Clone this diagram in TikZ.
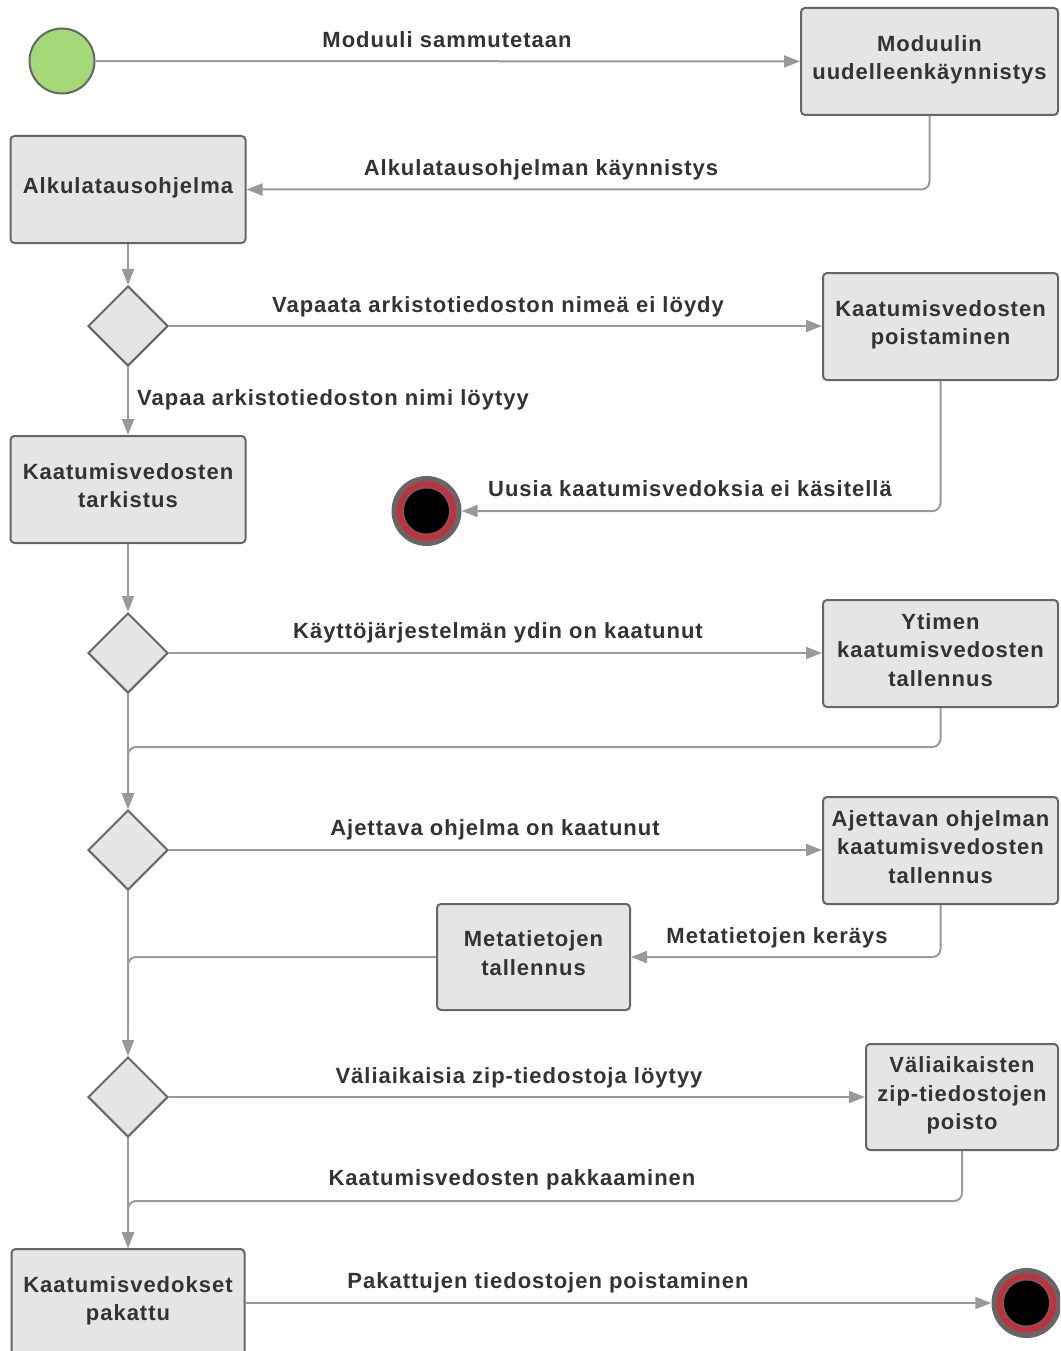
\documentclass[tikz,border=0pt]{standalone}
\usepackage{fontspec}
\setmainfont{Liberation Sans}[LetterSpace=4.5]
\usetikzlibrary{shapes.geometric,arrows.meta}
\definecolor{ink}{HTML}{333333}
\definecolor{boxfill}{HTML}{E5E5E5}
\definecolor{boxline}{HTML}{666666}
\definecolor{flow}{HTML}{999999}
\definecolor{startgreen}{HTML}{A3D977}
\definecolor{endred}{HTML}{C92D39}
\tikzset{
  txt/.style={font=\fontsize{22}{28.5}\selectfont\bfseries, text=ink},
  action/.style={txt, rectangle, rounded corners=4pt, draw=boxline, line width=2pt,
    fill=boxfill, align=center, inner sep=0pt, text height=16pt, text depth=8pt},
  tworow/.style={text height=44.5pt},
  threerow/.style={text height=73pt},
  decision/.style={diamond, aspect=1, draw=boxline, line width=2pt, fill=boxfill,
    minimum width=80pt, minimum height=80pt, inner sep=0pt},
  startnode/.style={circle, draw=boxline, line width=2pt, fill=startgreen,
    minimum size=65pt, inner sep=0pt},
  finalnode/.style={circle, fill=boxline, minimum size=70pt, inner sep=0pt},
  flowline/.style={draw=flow, line width=2pt, rounded corners=8pt,
    -{Triangle[length=16pt,width=12pt]}},
  plainline/.style={draw=flow, line width=2pt, rounded corners=8pt},
  lbl/.style={txt, inner sep=0pt, anchor=base}
}
\newcommand{\stopmark}[1]{%
  \fill[endred] (#1.center) circle (29.5pt);
  \fill[boxline] (#1.center) circle (24pt);
  \fill[black] (#1.center) circle (22.5pt);
}
\begin{document}
\begin{tikzpicture}[x=1pt,y=-1pt]
\useasboundingbox (0,0) rectangle (1060,1351);
\clip (0,0) rectangle (1060,1351);

% nodes
\node[startnode] (start) at (62,61) {};
\node[action, tworow, minimum width=257pt, minimum height=107pt] (restart) at (929.5,61.5) {Moduulin\\uudelleenkäynnistys};
\node[action, minimum width=235pt, minimum height=107pt] (boot) at (128,189.5) {Alkulatausohjelma};
\node[decision] (d1) at (128,326) {};
\node[action, tworow, minimum width=235pt, minimum height=107pt] (remove) at (940.5,326.5) {Kaatumisvedosten\\poistaminen};
\node[action, tworow, minimum width=235pt, minimum height=107pt] (check) at (128,489.5) {Kaatumisvedosten\\tarkistus};
\node[finalnode] (end1) at (426.5,511) {};
\node[decision] (d2) at (128,653) {};
\node[action, threerow, minimum width=235pt, minimum height=107pt] (kernel) at (940.5,653.5) {Ytimen\\kaatumisvedosten\\tallennus};
\node[decision] (d3) at (128,850) {};
\node[action, threerow, minimum width=235pt, minimum height=107pt] (prog) at (940.5,850.5) {Ajettavan ohjelman\\kaatumisvedosten\\tallennus};
\node[action, tworow, minimum width=193pt, minimum height=106pt] (meta) at (533.5,957) {Metatietojen\\tallennus};
\node[decision] (d4) at (128,1097) {};
\node[action, threerow, minimum width=192pt, minimum height=106pt] (zip) at (962,1097) {Väliaikaisten\\zip-tiedostojen\\poisto};
\node[action, tworow, minimum width=233pt, minimum height=107pt] (packed) at (128,1302.5) {Kaatumisvedokset\\pakattu};
\node[finalnode] (end2) at (1026.5,1303) {};
\stopmark{end1}
\stopmark{end2}

% connectors
\draw[flowline] (start) -- (restart);
\draw[flowline] (restart.south) |- (boot.east);
\draw[flowline] (boot) -- (d1);
\draw[flowline] (d1) -- (remove.west |- d1);
\draw[flowline] (d1) -- (check);
\draw[flowline] (remove.south) |- (end1.east);
\draw[flowline] (check) -- (d2);
\draw[flowline] (d2) -- (kernel.west |- d2);
\draw[flowline] (d2) -- (d3);
\draw[flowline] (kernel.south) -- ++(0,39) -| (d3.north);
\draw[flowline] (d3) -- (prog.west |- d3);
\draw[flowline] (prog.south) |- (meta.east);
\draw[plainline] (meta.west) -| ([yshift=30pt]d4.north);
\draw[flowline] (d3) -- (d4);
\draw[flowline] (d4) -- (zip.west |- d4);
\draw[flowline] (zip.south) -- ++(0,50) -| (packed.north);
\draw[flowline] (d4) -- (packed);
\draw[flowline] (packed.east |- end2) -- (end2);

% labels
\node[lbl] (l1) at (447,47.3) {Moduuli sammutetaan};
\node[lbl] (l2) at (541,175.5) {Alkulatausohjelman käynnistys};
\node[lbl] (l3) at (498,312.5) {Vapaata arkistotiedoston nimeä ei löydy};
\node[lbl, anchor=base west] (l4) at (137,405.5) {Vapaa arkistotiedoston nimi löytyy};
\node[lbl] (l5) at (690,496.5) {Uusia kaatumisvedoksia ei käsitellä};
\node[lbl] (l6) at (498,638.5) {Käyttöjärjestelmän ydin on kaatunut};
\node[lbl] (l7) at (495,835.5) {Ajettava ohjelma on kaatunut};
\node[lbl] (l8) at (777,943.5) {Metatietojen keräys};
\node[lbl] (l9) at (519,1083.5) {Väliaikaisia zip-tiedostoja löytyy};
\node[lbl] (l10) at (512,1185.5) {Kaatumisvedosten pakkaaminen};
\node[lbl] (l11) at (548,1288.5) {Pakattujen tiedostojen poistaminen};
\end{tikzpicture}
\end{document}
